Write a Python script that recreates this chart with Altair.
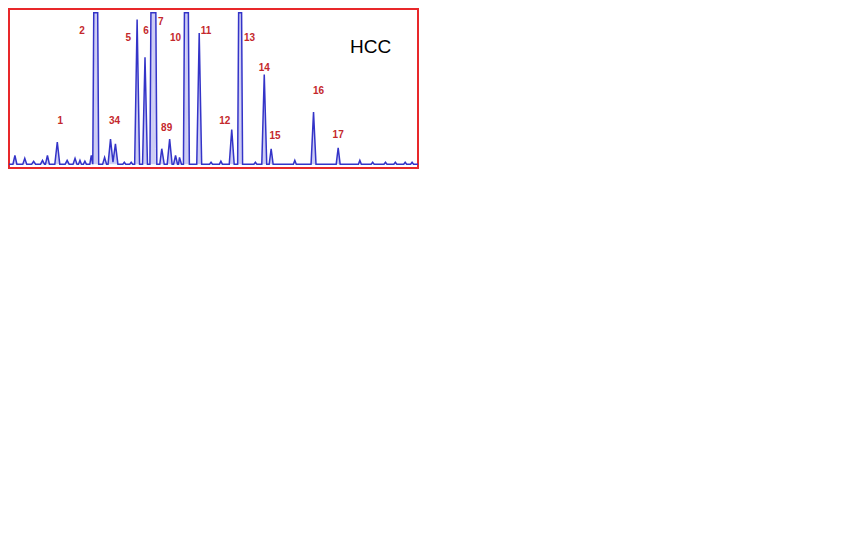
import altair as alt
import pandas as pd

# Chromatogram trace vertices (x = retention position, y = signal above baseline)
trace_x = [3,
           7, 9, 11, 17, 19, 21, 26, 28, 30, 35, 37, 39, 40, 42, 44,
           49.5, 52, 54.5, 60, 62, 64, 68, 70, 72, 73.5, 75, 76.5, 78.5, 80, 81.5,
           85, 86.5, 88, 89, 93, 94,
           98, 100, 102, 103.5, 106, 108.5, 111, 113.5,
           118.5, 120, 121.5, 125.5, 127, 128.5,
           130.5, 133, 135.5, 138.5, 141, 143.5, 146, 147, 152, 153,
           156, 158, 160.5, 163.5, 166, 168.5, 170, 172, 174, 175, 176, 178,
           180, 181, 185, 186, 193.5, 196, 198.5,
           206.5, 208, 209.5, 216.5, 218, 219.5,
           226.5, 229, 231.5, 235, 236, 239, 240,
           251.5, 253, 254.5, 259.5, 262, 264.5, 267, 269, 271,
           291.5, 293, 294.5, 309.5, 312, 314.5, 335, 337, 339,
           357.5, 359, 360.5, 370.5, 372, 373.5, 383.5, 385, 386.5,
           393.5, 395, 396.5, 403.5, 405, 406.5, 410.5, 412, 413.5, 418]
trace_y = [0,
           0, 9, 0, 0, 6, 0, 0, 3, 0, 0, 4, 0, 0, 9, 0,
           0, 23, 0, 0, 4, 0, 0, 6, 0, 0, 4, 0, 0, 3, 0,
           0, 9, 0, 157, 157, 0,
           0, 7, 0, 0, 26, 2, 21, 0,
           0, 2, 0, 0, 2, 0,
           0, 150, 0, 0, 111, 0, 0, 157, 157, 0,
           0, 16, 0, 0, 26, 0, 0, 9, 0, 0, 7, 0,
           0, 157, 157, 0, 0, 136, 0,
           0, 2, 0, 0, 3, 0,
           0, 36, 0, 0, 157, 157, 0,
           0, 2, 0, 0, 93, 0, 0, 16, 0,
           0, 4, 0, 0, 54, 0, 0, 17, 0,
           0, 4, 0, 0, 2, 0, 0, 2, 0,
           0, 2, 0, 0, 2, 0, 0, 2, 0, 0]

# Peak labels
label_text = ["1", "2", "34", "5", "6", "7", "89", "10", "11",
              "12", "13", "14", "15", "16", "17"]
label_x = [55, 77, 110, 124, 142, 157, 163, 172, 203,
           222, 247, 262, 273, 317, 337]
label_y = [45, 138, 45, 131, 138, 147, 37, 131, 138,
           45, 131, 100, 29, 76, 30]

title_text = ["HCC"]
title_x = [370]
title_y = [122]

trace = pd.DataFrame({"x": trace_x, "y": trace_y, "i": list(range(len(trace_x)))})
labels = pd.DataFrame({"t": label_text, "x": label_x, "y": label_y})
title = pd.DataFrame({"t": title_text, "x": title_x, "y": title_y})

xs = alt.Scale(domain=[3, 418], nice=False, zero=False)
ys = alt.Scale(domain=[-4, 161], nice=False, zero=False)

base = alt.Chart(trace).encode(
    x=alt.X("x:Q", scale=xs, axis=None),
    y=alt.Y("y:Q", scale=ys, axis=None),
    order="i:Q",
)
area = base.mark_area(color="#b8b8f0", opacity=0.7, clip=True)
line = base.mark_line(color="#3434c8", strokeWidth=1.5, clip=True)

text = alt.Chart(labels).mark_text(
    font="Liberation Sans", fontSize=10, fontWeight="bold",
    color="#c4282c", baseline="middle", align="center"
).encode(
    x=alt.X("x:Q", scale=xs, axis=None),
    y=alt.Y("y:Q", scale=ys, axis=None),
    text="t:N",
)

hcc = alt.Chart(title).mark_text(
    font="Liberation Sans", fontSize=19, color="#000000",
    baseline="middle", align="center"
).encode(
    x=alt.X("x:Q", scale=xs, axis=None),
    y=alt.Y("y:Q", scale=ys, axis=None),
    text="t:N",
)

chart = alt.layer(area, line, text, hcc).properties(
    width=409, height=159,
    padding={"left": 1, "top": 1, "right": 1, "bottom": 1},
    autosize=alt.AutoSizeParams(type="none"),
    background="white",
).configure_view(stroke="#e8282a", strokeWidth=2, fill="white")

chart.save("out.html", embed_options={"renderer": "svg", "actions": False})
